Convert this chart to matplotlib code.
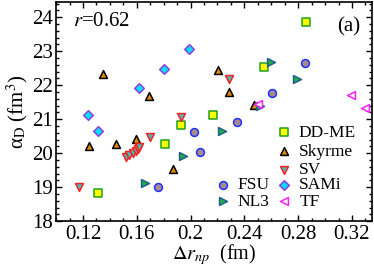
import matplotlib
matplotlib.use("Agg")
import matplotlib.pyplot as plt
from matplotlib.ticker import MultipleLocator

plt.rcParams['font.family'] = ['Liberation Serif', 'DejaVu Serif']
plt.rcParams['mathtext.fontset'] = 'stix'

# values
ddme_x = [0.286, 0.2548, 0.2165, 0.1926, 0.1807, 0.1313]
ddme_y = [23.86, 22.53, 21.13, 20.83, 20.27, 18.84]

skyrme_x = [0.135, 0.169, 0.2202, 0.2284, 0.2474, 0.1247, 0.1444, 0.1593, 0.1872]
skyrme_y = [22.34, 21.68, 22.44, 21.80, 21.41, 20.22, 20.27, 20.42, 19.54]

sv_x = [0.1926, 0.2284, 0.1699, 0.1173, 0.1519, 0.1545, 0.1570, 0.1592, 0.1608, 0.1620]
sv_y = [21.05, 22.17, 20.47, 18.99, 19.89, 19.95, 20.00, 20.06, 20.12, 20.18]

fsu_x = [0.2854, 0.2605, 0.2346, 0.2025, 0.2069, 0.1758]
fsu_y = [22.65, 21.78, 20.92, 20.61, 20.03, 18.99]

sami_x = [0.124, 0.1313, 0.1613, 0.180, 0.1988]
sami_y = [21.12, 20.66, 21.92, 22.49, 23.06]

nl3_x = [0.2598, 0.2795, 0.2519, 0.2235, 0.1946, 0.1659]
nl3_y = [22.67, 22.19, 21.39, 20.66, 19.91, 19.11]

tf_x = [0.3195, 0.3296, 0.2499]
tf_y = [21.72, 21.32, 21.46]

xticks = [0.12, 0.16, 0.2, 0.24, 0.28, 0.32]
xticklabels = ['0.12', '0.16', '0.2', '0.24', '0.28', '0.32']
yticks = [18, 19, 20, 21, 22, 23, 24]

fig = plt.figure(figsize=(3.74, 2.69), dpi=100)
ax = fig.add_axes([0.150, 0.178, 0.845, 0.815])

ms = 32
lw = 1.1
h_dd = ax.scatter(ddme_x, ddme_y, s=ms, marker='s', c='#ffff00', edgecolors='#1fa01f', linewidths=lw, label='DD-ME', zorder=3)
h_sk = ax.scatter(skyrme_x, skyrme_y, s=ms, marker='^', c='#e58c00', edgecolors='black', linewidths=lw, label='Skyrme', zorder=3)
h_sv = ax.scatter(sv_x, sv_y, s=ms, marker='v', c='#3fbfbf', edgecolors='#ff1f1f', linewidths=lw, label='SV', zorder=3)
h_fsu = ax.scatter(fsu_x, fsu_y, s=ms, marker='o', c='#a88c8c', edgecolors='#1f2fff', linewidths=lw, label='FSU', zorder=3)
h_sa = ax.scatter(sami_x, sami_y, s=24, marker='D', c='#00e0ff', edgecolors='#8f3fdf', linewidths=lw, label='SAMi', zorder=3)
h_nl = ax.scatter(nl3_x, nl3_y, s=ms, marker='>', c='#1fb03f', edgecolors='#1f5f8f', linewidths=lw, label='NL3', zorder=3)
h_tf = ax.scatter(tf_x, tf_y, s=ms, marker='<', c='white', edgecolors='#ff1fff', linewidths=lw, label='TF', zorder=3)

ax.set_xlim(0.1, 0.335)
ax.set_ylim(18, 24.45)
ax.set_xticks(xticks)
ax.set_xticklabels(xticklabels)
ax.set_yticks(yticks)
ax.xaxis.set_minor_locator(MultipleLocator(0.01))
ax.yaxis.set_minor_locator(MultipleLocator(0.2))
ax.tick_params(which='both', direction='in', top=True, right=True, labelsize=15)
ax.tick_params(which='major', length=4.5, width=1)
ax.tick_params(which='minor', length=2.5, width=1)
ax.tick_params(axis='x', pad=2.5)
ax.tick_params(axis='y', pad=2)
for sp in ax.spines.values():
    sp.set_linewidth(1.2)

ax.set_xlabel(r'$\Delta r_{np}$  (fm)', fontsize=14.5, labelpad=-1)
ax.set_ylabel(r'α$_{\rm D}$ (fm$^3$)', fontsize=15, labelpad=2)

ax.text(0.054, 0.91, r'$r$=0.62', transform=ax.transAxes, fontsize=15, va='center')
ax.text(0.889, 0.887, '(a)', transform=ax.transAxes, fontsize=15, va='center')

leg1 = ax.legend(handles=[h_dd, h_sk, h_sv], loc='upper left', bbox_to_anchor=(0.693, 0.44),
                 frameon=False, fontsize=12.5, handlelength=1.0, handletextpad=0.35,
                 labelspacing=0.15, borderpad=0, borderaxespad=0, scatterpoints=1)
ax.add_artist(leg1)
ax.legend(handles=[h_fsu, h_nl, h_sa, h_tf], loc='upper left', bbox_to_anchor=(0.5, 0.2), ncol=2,
          frameon=False, fontsize=12.5, handlelength=1.0, handletextpad=0.35, columnspacing=0.35,
          labelspacing=0.0, borderpad=0, borderaxespad=0, scatterpoints=1)

fig.savefig('out.png', dpi=100)
